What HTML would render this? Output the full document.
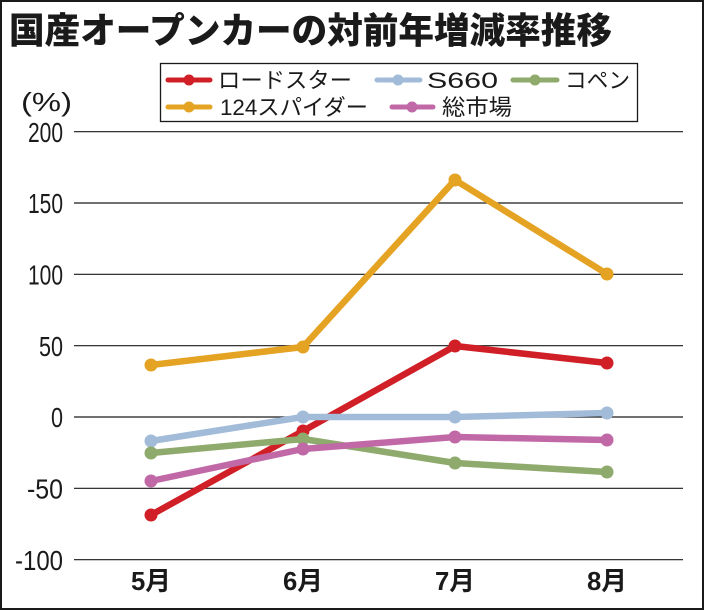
<!DOCTYPE html>
<html><head><meta charset="utf-8"><style>
html,body{margin:0;padding:0;background:#fff;}
svg{display:block;}
</style></head><body>
<svg width="705" height="611" viewBox="0 0 705 611" xmlns="http://www.w3.org/2000/svg">
<rect x="0" y="0" width="705" height="611" fill="#fff"/>
<rect x="1" y="1" width="702" height="608" fill="none" stroke="#1a1a1a" stroke-width="2"/>
<text x="9" y="43" font-family="'Noto Sans CJK JP', sans-serif" font-weight="900" font-size="36" fill="#1a1a1a" textLength="603" lengthAdjust="spacingAndGlyphs">国産オープンカーの対前年増減率推移</text>

<!-- legend -->
<rect x="160.5" y="63.5" width="477" height="58" fill="#fff" stroke="#1a1a1a" stroke-width="1.3"/>
<g stroke-width="5" stroke-linecap="round">
<line x1="168" y1="80" x2="210" y2="80" stroke="#d01f26"/><circle cx="189" cy="80" r="5.5" fill="#d01f26"/>
<line x1="377" y1="80" x2="420" y2="80" stroke="#a2bbd8"/><circle cx="398" cy="80" r="5.5" fill="#a2bbd8"/>
<line x1="513" y1="80" x2="557" y2="80" stroke="#8eaa6c"/><circle cx="535" cy="80" r="5.5" fill="#8eaa6c"/>
<line x1="168" y1="107" x2="210" y2="107" stroke="#e5a323"/><circle cx="189" cy="107" r="5.5" fill="#e5a323"/>
<line x1="392" y1="107" x2="433" y2="107" stroke="#c169a7"/><circle cx="412" cy="107" r="5.5" fill="#c169a7"/>
</g>
<g font-family="'Liberation Sans','Noto Sans CJK JP', sans-serif" font-size="22" fill="#1a1a1a">
<text x="218" y="88" textLength="134" lengthAdjust="spacingAndGlyphs">ロードスター</text>
<text x="427" y="88" textLength="71" lengthAdjust="spacingAndGlyphs">S660</text>
<text x="565" y="88" textLength="65" lengthAdjust="spacingAndGlyphs">コペン</text>
<text x="220" y="115" textLength="148" lengthAdjust="spacingAndGlyphs">124スパイダー</text>
<text x="442" y="115" textLength="70" lengthAdjust="spacingAndGlyphs">総市場</text>
</g>

<!-- axis unit -->
<text x="21" y="111" font-family="'Liberation Sans','Noto Sans CJK JP', sans-serif" font-size="26" fill="#1a1a1a" textLength="51" lengthAdjust="spacingAndGlyphs">(%)</text>

<!-- grid -->
<g stroke="#1a1a1a" stroke-width="1.2">
<line x1="74" y1="131.7" x2="683" y2="131.7"/>
<line x1="74" y1="203" x2="683" y2="203"/>
<line x1="74" y1="274.3" x2="683" y2="274.3"/>
<line x1="74" y1="345.7" x2="683" y2="345.7"/>
<line x1="74" y1="417" x2="683" y2="417"/>
<line x1="74" y1="488.3" x2="683" y2="488.3"/>
<line x1="74" y1="559.7" x2="683" y2="559.7"/>
</g>
<g font-family="'Liberation Sans', sans-serif" font-size="28" fill="#1a1a1a" text-anchor="end">
<text x="63" y="141.8" textLength="35" lengthAdjust="spacingAndGlyphs">200</text>
<text x="63" y="213.1" textLength="35" lengthAdjust="spacingAndGlyphs">150</text>
<text x="63" y="284.4" textLength="35" lengthAdjust="spacingAndGlyphs">100</text>
<text x="63" y="355.8" textLength="24" lengthAdjust="spacingAndGlyphs">50</text>
<text x="63" y="427.1" textLength="12" lengthAdjust="spacingAndGlyphs">0</text>
<text x="63" y="498.4" textLength="36" lengthAdjust="spacingAndGlyphs">-50</text>
<text x="63" y="569.8" textLength="48" lengthAdjust="spacingAndGlyphs">-100</text>
</g>
<g font-family="'Liberation Sans','Noto Sans CJK JP', sans-serif" font-size="26" font-weight="bold" fill="#1a1a1a" text-anchor="middle">
<text x="151" y="590" textLength="40" lengthAdjust="spacingAndGlyphs">5月</text>
<text x="303" y="590" textLength="40" lengthAdjust="spacingAndGlyphs">6月</text>
<text x="455" y="590" textLength="40" lengthAdjust="spacingAndGlyphs">7月</text>
<text x="607" y="590" textLength="40" lengthAdjust="spacingAndGlyphs">8月</text>
</g>

<!-- series -->
<g fill="none" stroke-width="6.5" stroke-linejoin="round" stroke-linecap="round">
<polyline points="151,515 303,431 455,346 607,363" stroke="#d01f26"/>
<polyline points="151,441 303,417 455,417 607,413" stroke="#a2bbd8"/>
<polyline points="151,453 303,439 455,463 607,472" stroke="#8eaa6c"/>
<polyline points="151,365 303,347 455,180 607,274" stroke="#e5a323"/>
<polyline points="151,481 303,449 455,437 607,440" stroke="#c169a7"/>
</g>
<g>
<g fill="#d01f26"><circle cx="151" cy="515" r="6.5"/><circle cx="303" cy="431" r="6.5"/><circle cx="455" cy="346" r="6.5"/><circle cx="607" cy="363" r="6.5"/></g>
<g fill="#a2bbd8"><circle cx="151" cy="441" r="6.5"/><circle cx="303" cy="417" r="6.5"/><circle cx="455" cy="417" r="6.5"/><circle cx="607" cy="413" r="6.5"/></g>
<g fill="#8eaa6c"><circle cx="151" cy="453" r="6.5"/><circle cx="303" cy="439" r="6.5"/><circle cx="455" cy="463" r="6.5"/><circle cx="607" cy="472" r="6.5"/></g>
<g fill="#e5a323"><circle cx="151" cy="365" r="6.5"/><circle cx="303" cy="347" r="6.5"/><circle cx="455" cy="180" r="6.5"/><circle cx="607" cy="274" r="6.5"/></g>
<g fill="#c169a7"><circle cx="151" cy="481" r="6.5"/><circle cx="303" cy="449" r="6.5"/><circle cx="455" cy="437" r="6.5"/><circle cx="607" cy="440" r="6.5"/></g>
</g>
</svg>
</body></html>
